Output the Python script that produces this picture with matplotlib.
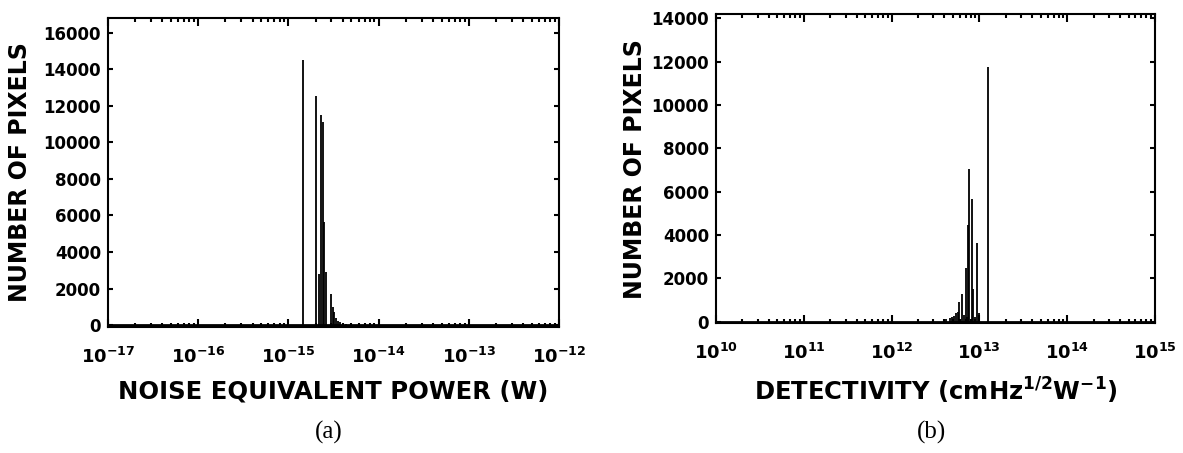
import numpy as np
import matplotlib.pyplot as plt
from matplotlib.ticker import FuncFormatter, NullFormatter, NullLocator, LogLocator

plt.rcParams['font.family'] = 'DejaVu Sans'
plt.rcParams['font.weight'] = 'bold'
plt.rcParams['mathtext.fontset'] = 'dejavusans'
plt.rcParams['mathtext.default'] = 'bf'

# ---- (a) noise equivalent power histogram ----
nep_w = [1.46e-15, 2.0e-15, 2.2e-15, 2.27e-15, 2.39e-15, 2.47e-15, 2.62e-15,
         2.98e-15, 3.1e-15, 3.24e-15, 3.35e-15, 3.55e-15, 3.77e-15, 4.0e-15, 4.37e-15]
nep_counts = [14500, 12550, 2800, 11500, 11100, 5650, 2930,
              1700, 980, 710, 380, 230, 150, 110, 70]

# ---- (b) detectivity histogram ----
det = [4.13e12, 4.62e12, 4.83e12, 5.14e12, 5.41e12, 5.66e12, 5.86e12, 6.28e12,
       6.68e12, 6.98e12, 7.28e12, 7.48e12, 7.62e12, 8.17e12, 8.45e12, 8.83e12,
       9.31e12, 9.9e12, 1.24e13]
det_counts = [110, 150, 230, 280, 380, 460, 910, 1290,
              300, 2470, 200, 4440, 7050, 5650, 1490, 230,
              3620, 380, 11750]

fig = plt.figure(figsize=(11.83, 4.53), dpi=100)
ax1 = fig.add_axes([0.0913, 0.2781, 0.3812, 0.6821])
ax2 = fig.add_axes([0.6052, 0.2863, 0.3711, 0.6828])

def dec_fmt(v, p):
    return r'$10^{%d}$' % int(round(np.log10(v)))

setups = [
    (ax1, nep_w, nep_counts, (1e-17, 1e-12), (-100, 16800), np.arange(0, 16001, 2000),
     'NOISE EQUIVALENT POWER (W)', -0.168, '(a)', -0.34),
    (ax2, det, det_counts, (1e10, 1e15), (-80, 14200), np.arange(0, 14001, 2000),
     r'DETECTIVITY (cmHz$^{1/2}$W$^{-1}$)', -0.157, '(b)', -0.354),
]

for ax, xs, cs, xl, yl, yt, xlab, ylx, tag, tagy in setups:
    ax.vlines(xs, 0, cs, color='black', lw=1.3)
    ax.axhline(0, color='black', lw=2)
    ax.set_xscale('log')
    ax.set_xlim(*xl)
    ax.set_ylim(*yl)
    ax.set_yticks(yt)
    ax.yaxis.set_minor_locator(NullLocator())
    ax.xaxis.set_major_locator(LogLocator(base=10, numticks=10))
    ax.xaxis.set_minor_locator(LogLocator(base=10, subs=np.arange(2, 10), numticks=20))
    ax.xaxis.set_major_formatter(FuncFormatter(dec_fmt))
    ax.xaxis.set_minor_formatter(NullFormatter())
    ax.tick_params(which='both', direction='in', top=True, right=True, width=1.5)
    ax.tick_params(axis='x', which='major', length=5.5, pad=14, labelsize=13)
    ax.tick_params(axis='x', which='minor', length=2.8)
    ax.tick_params(axis='y', which='major', length=3.8, pad=5, labelsize=12)
    for s in ax.spines.values():
        s.set_linewidth(1.5)
    ax.set_ylabel('NUMBER OF PIXELS', fontsize=17, fontweight='bold')
    ax.yaxis.set_label_coords(ylx, 0.5)
    ax.set_xlabel(xlab, fontsize=17.5, fontweight='bold')
    ax.xaxis.set_label_coords(0.5, -0.17)
    ax.text(0.49, tagy, tag, transform=ax.transAxes, ha='center', va='center',
            fontsize=18, fontweight='normal', family='Liberation Serif')

fig.savefig('out.png', dpi=100)
